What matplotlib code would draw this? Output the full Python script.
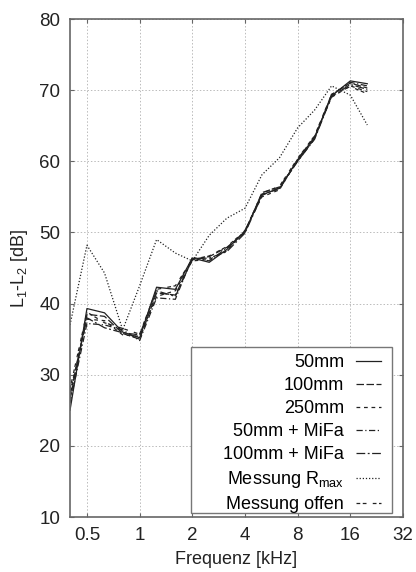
import matplotlib
matplotlib.use("Agg")
import matplotlib.pyplot as plt
from matplotlib.patches import Rectangle

plt.rcParams['font.family'] = ['Liberation Sans', 'DejaVu Sans']
plt.rcParams['mathtext.fontset'] = 'custom'
plt.rcParams['mathtext.rm'] = 'Liberation Sans'
plt.rcParams['mathtext.it'] = 'Liberation Sans:italic'

# third-octave band centres in kHz
freqs = [0.4, 0.5, 0.63, 0.8, 1.0, 1.25, 1.6, 2.0, 2.5, 3.15, 4.0, 5.0, 6.3, 8.0, 10.0, 12.5, 16.0, 20.0]

s50 = [25.0, 39.3, 38.7, 36.0, 35.2, 42.3, 42.0, 46.4, 45.8, 47.6, 50.2, 55.3, 56.2, 60.2, 63.4, 69.2, 71.3, 70.9]
s100 = [26.5, 38.5, 38.2, 35.8, 35.0, 41.5, 41.2, 46.2, 46.6, 47.9, 50.0, 55.6, 56.4, 60.0, 63.2, 69.4, 71.0, 70.3]
s250 = [27.5, 37.8, 37.6, 35.6, 35.4, 41.0, 41.8, 46.0, 46.2, 47.4, 50.3, 55.0, 56.0, 60.3, 63.5, 69.0, 70.6, 69.8]
s50_mifa = [26.0, 37.2, 37.0, 36.3, 34.8, 40.8, 40.6, 46.5, 46.0, 47.8, 50.1, 55.4, 56.1, 60.1, 63.3, 69.3, 71.1, 70.6]
s100_mifa = [27.0, 38.0, 36.6, 35.9, 35.6, 41.8, 41.0, 46.3, 46.4, 47.3, 49.9, 55.2, 56.3, 60.0, 63.1, 69.1, 70.8, 70.1]
rmax = [37.0, 48.2, 44.3, 36.3, 42.5, 49.0, 47.1, 46.0, 49.6, 52.0, 53.4, 58.1, 60.5, 64.7, 67.2, 70.6, 69.3, 65.1]
offen = [28.0, 38.8, 37.3, 36.5, 35.7, 42.0, 42.5, 46.2, 46.7, 48.0, 50.2, 55.5, 56.5, 60.4, 63.6, 69.4, 70.5, 69.5]

labels = ["50mm", "100mm", "250mm", "50mm + MiFa", "100mm + MiFa",
          r"Messung R$_{\mathrm{max}}$", "Messung offen"]
series = [s50, s100, s250, s50_mifa, s100_mifa, rmax, offen]
styles = ['-', (0, (6, 2)), (0, (3, 3)), (0, (5, 2, 1, 2)), (0, (7, 2, 1.5, 2)),
          (0, (1, 1.5)), (0, (3, 2, 3, 5))]

fig = plt.figure(figsize=(4.16, 5.72), dpi=100)
ax = fig.add_axes([70/416, 55/572, 333/416, 498/572])

for y, lab, ls in zip(series, labels, styles):
    ax.plot(freqs, y, color='#222222', lw=0.9, linestyle=ls, label=lab)

ax.set_xscale('log', base=2)
ax.set_xlim(0.4, 32)
ax.set_ylim(10, 80)
ax.set_xticks([0.5, 1, 2, 4, 8, 16, 32])
ax.set_xticklabels(["0.5", "1", "2", "4", "8", "16", "32"])
ax.minorticks_off()
ax.set_yticks(range(10, 81, 10))

ax.grid(True, color='#bbbbbb', linestyle=(0, (1.5, 2)), linewidth=0.7)
for s in ax.spines.values():
    s.set_color('#666666')
    s.set_linewidth(1.2)
ax.tick_params(direction='in', length=3, width=0.8, color='#666666',
               top=True, right=True, labelsize=13.5, pad=7, labelcolor='#222222')

ax.set_xlabel("Frequenz [kHz]", fontsize=13, labelpad=5, color='#222222')
ax.set_ylabel(r"L$_1$-L$_2$ [dB]", fontsize=13, labelpad=7, color='#222222')

# gnuplot-style key: box drawn separately, text right-aligned next to samples
ax.add_patch(Rectangle((0.3634, 0.008), 0.967 - 0.3634, 0.3414 - 0.008,
                       transform=ax.transAxes, facecolor='white',
                       edgecolor='#777777', lw=1.0, zorder=4))
leg = ax.legend(loc='lower right', bbox_to_anchor=(0.934, 0.008), borderaxespad=0,
                markerfirst=False, frameon=False, fontsize=13, handlelength=1.4,
                handletextpad=0.65, labelspacing=0.33, borderpad=0)
leg.set_zorder(5)

plt.savefig("out.png", dpi=100)
plt.close()
